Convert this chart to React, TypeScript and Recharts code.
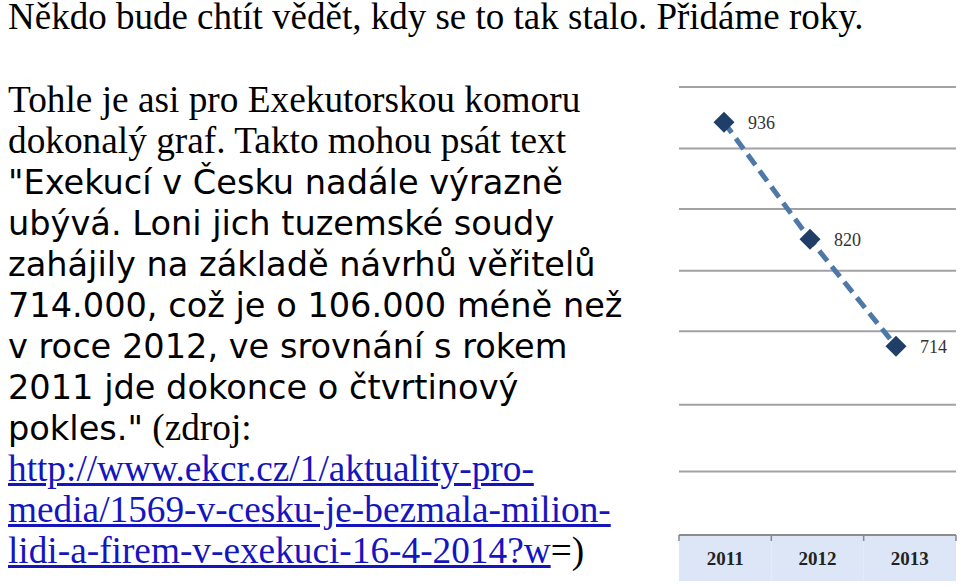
import React from "react"
import { LineChart, Line, XAxis, YAxis, CartesianGrid, LabelList } from "recharts"

// values
const years = ["2011", "2012", "2013"]
const cases = [936, 820, 714]
// gridline values (the source image is slightly uneven, so ticks are too)
const yTicks = [527, 590, 656, 729, 789, 850, 910, 971]

const data = years.map((year, i) => ({ year, cases: cases[i] }))

const SERIF = "'Liberation Serif', 'Times New Roman', serif"
const SANS = "'DejaVu Sans', Verdana, sans-serif"

type Seg = { t: string; k: "serif" | "sans" | "link" }
const lines: Seg[][] = [
  [{ t: "Tohle je asi pro Exekutorskou komoru", k: "serif" }],
  [{ t: "dokonalý graf. Takto mohou psát text", k: "serif" }],
  [{ t: "\"Exekucí v Česku nadále výrazně", k: "sans" }],
  [{ t: "ubývá. Loni jich tuzemské soudy", k: "sans" }],
  [{ t: "zahájily na základě návrhů věřitelů", k: "sans" }],
  [{ t: "714.000, což je o 106.000 méně než", k: "sans" }],
  [{ t: "v roce 2012, ve srovnání s rokem", k: "sans" }],
  [{ t: "2011 jde dokonce o čtvrtinový", k: "sans" }],
  [{ t: "pokles.\"", k: "sans" }, { t: " (zdroj:", k: "serif" }],
  [{ t: "http://www.ekcr.cz/1/aktuality-pro-", k: "link" }],
  [{ t: "media/1569-v-cesku-je-bezmala-milion-", k: "link" }],
  [{ t: "lidi-a-firem-v-exekuci-16-4-2014?w", k: "link" }, { t: "=)", k: "serif" }],
]

const segStyle = (k: Seg["k"]): React.CSSProperties =>
  k === "sans"
    ? { fontFamily: SANS, fontSize: 33.6 }
    : k === "link"
    ? { color: "#1515c0", textDecoration: "underline" }
    : {}

const BAND_W = 277 / 3

const BandTick = (props: any) => {
  const { x, y, payload, index } = props
  const last = index === years.length - 1
  return (
    <g>
      <rect x={x - BAND_W / 2} y={y + 1} width={BAND_W} height={45} fill="#dce6f6" />
      <line x1={x - BAND_W / 2} y1={y} x2={x - BAND_W / 2} y2={y + 6} stroke="#888" strokeWidth={1.5} />
      {last && <line x1={x + BAND_W / 2} y1={y} x2={x + BAND_W / 2} y2={y + 6} stroke="#888" strokeWidth={1.5} />}
      <text x={x} y={y + 30} textAnchor="middle" fontFamily={SERIF} fontWeight="bold" fontSize={19} fill="#222">
        {payload.value}
      </text>
    </g>
  )
}

const Diamond = (props: any) => {
  const { cx, cy } = props
  if (cx == null || cy == null) return null
  const r = 10.5
  return <polygon points={`${cx},${cy - r} ${cx + r},${cy} ${cx},${cy + r} ${cx - r},${cy}`} fill="#1f3e68" />
}

export default function App() {
  return (
    <div style={{ position: "absolute", left: 0, top: 0, width: 960, height: 586, background: "#fff", overflow: "hidden", color: "#000" }}>
      <div style={{ position: "absolute", left: 8, top: -4.5, fontFamily: SERIF, fontSize: 37, lineHeight: "41px", whiteSpace: "nowrap" }}>
        Někdo bude chtít vědět, kdy se to tak stalo. Přidáme roky.
      </div>
      <div style={{ position: "absolute", left: 8, top: 78.9, fontFamily: SERIF, fontSize: 37.3, lineHeight: "41px", whiteSpace: "nowrap" }}>
        {lines.map((segs, i) => (
          <div key={i} style={{ height: 41 }}>
            {segs.map((s, j) => (
              <span key={j} style={segStyle(s.k)}>{s.t}</span>
            ))}
          </div>
        ))}
      </div>

      <div style={{ position: "absolute", left: 660, top: 60 }}>
        <LineChart width={300} height={526} data={data} margin={{ top: 27, right: 4, bottom: 0, left: 19 }}>
          <CartesianGrid xAxisId="band" vertical={false} stroke="#a2a2a2" strokeWidth={2} />
          <XAxis
            xAxisId="band"
            dataKey="year"
            scale="band"
            height={51}
            interval={0}
            tickSize={0}
            tickMargin={0}
            tickLine={false}
            axisLine={{ stroke: "#8c8c8c", strokeWidth: 2 }}
            tick={<BandTick />}
          />
          <XAxis xAxisId="line" dataKey="year" hide padding={{ left: 45, right: 60 }} />
          <YAxis hide domain={[527, 971]} ticks={yTicks} type="number" />
          <Line
            xAxisId="line"
            dataKey="cases"
            stroke="#4d78a8"
            strokeWidth={5}
            strokeDasharray="13 7"
            dot={<Diamond />}
            activeDot={false}
            isAnimationActive={false}
          >
            <LabelList dataKey="cases" position="right" offset={24} fontFamily={SERIF} fontSize={18} fill="#333" />
          </Line>
        </LineChart>
      </div>
    </div>
  )
}
